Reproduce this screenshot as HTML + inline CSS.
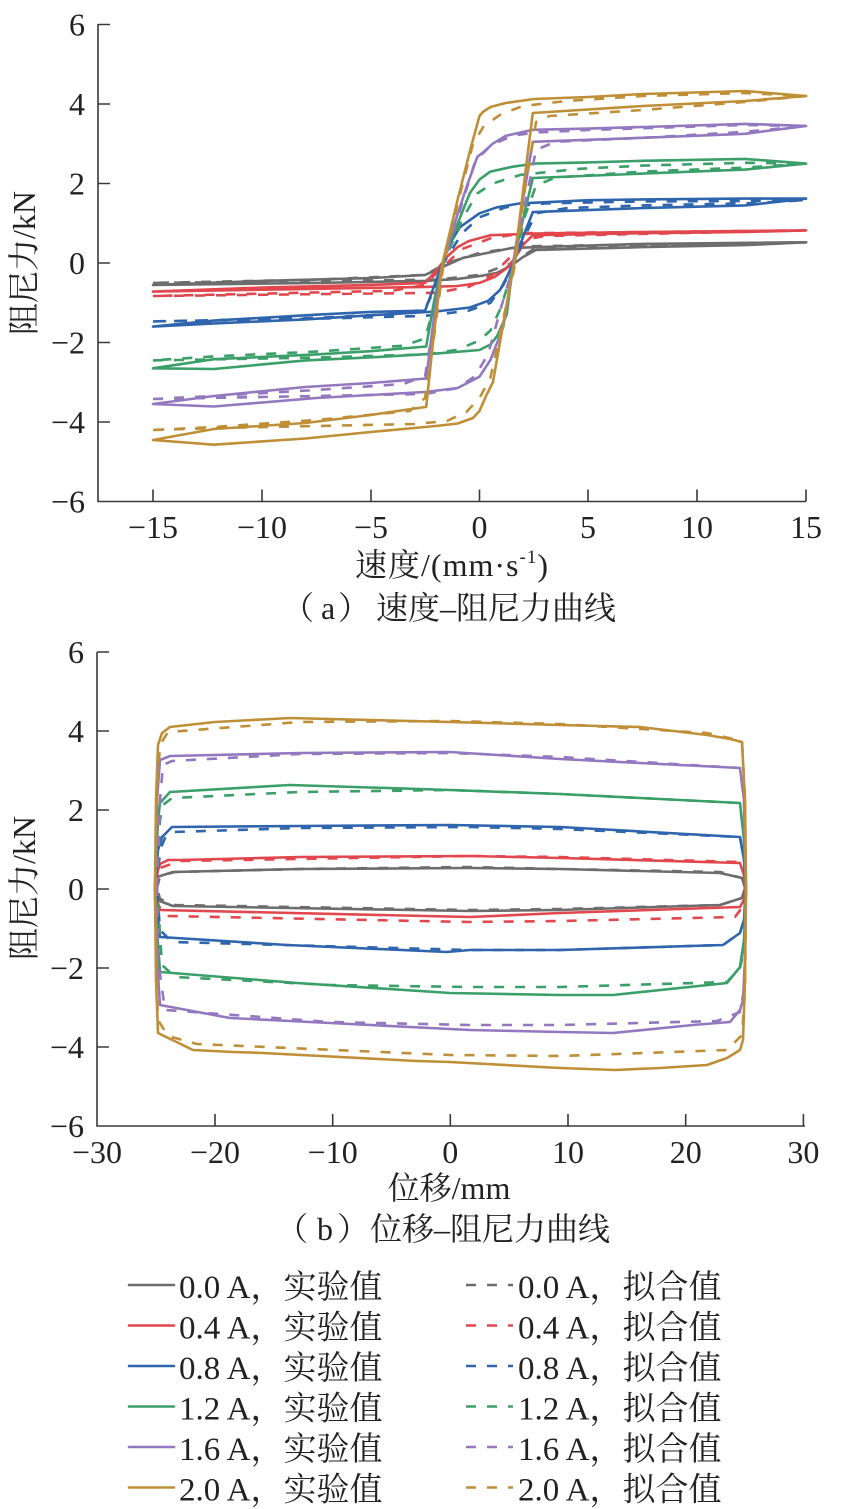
<!DOCTYPE html>
<html><head><meta charset="utf-8"><style>
html,body{margin:0;padding:0;background:#fff;}
svg{display:block;}
text{font-family:"Liberation Serif","Noto Serif CJK SC",serif;fill:#222;}
.cj{font-family:"Noto Serif CJK SC",serif;}
.s{fill:none;stroke-width:2.6;stroke-linejoin:round;stroke-linecap:round;}
.d{fill:none;stroke-width:2.6;stroke-dasharray:10 11;stroke-linejoin:round;}
.ax{stroke:#3a3a3a;stroke-width:1.6;fill:none;}
.gy{stroke:#6d6d6d}.rd{stroke:#e2474d}.bl{stroke:#2f65ad}.gn{stroke:#3b9f69}.pu{stroke:#9478bf}.go{stroke:#bf8f38}
</style></head><body>
<svg width="849" height="1509" viewBox="0 0 849 1509" xmlns="http://www.w3.org/2000/svg">
<rect width="849" height="1509" fill="#fff"/>

<!-- ===== Chart (a) ===== -->
<g>
<path class="ax" d="M98,24 V501.5 H806"/>
<path class="ax" d="M98,24.5h12M98,104h12M98,183.5h12M98,263h12M98,342.5h12M98,422h12M153,501.5v-12M262,501.5v-12M371,501.5v-12M479.5,501.5v-12M588,501.5v-12M697,501.5v-12M806,501.5v-12"/>
<g font-size="32" text-anchor="end">
<text x="85" y="35.5">6</text><text x="85" y="115">4</text><text x="85" y="194.5">2</text><text x="85" y="274">0</text><text x="85" y="353.5">−2</text><text x="85" y="433">−4</text><text x="85" y="512.5">−6</text>
</g>
<g font-size="32" text-anchor="middle">
<text x="153" y="538">−15</text><text x="262" y="538">−10</text><text x="371" y="538">−5</text><text x="479.5" y="538">0</text><text x="588" y="538">5</text><text x="697" y="538">10</text><text x="806" y="538">15</text>
</g>
<text font-size="32" text-anchor="middle" transform="translate(24,263) rotate(-90)" dominant-baseline="central">阻尼力/kN</text>
<text font-size="32" x="355" y="576" textLength="193" lengthAdjust="spacing">速度/(mm·s<tspan font-size="19" dy="-13">-1</tspan><tspan dy="13">)</tspan></text>
<text font-size="32" y="619"><tspan class="cj" x="282">（</tspan><tspan x="321">a</tspan><tspan class="cj" x="338">）</tspan><tspan x="376">速度–阻尼力曲线</tspan></text>

<!-- gray -->
<polyline class="s gy" points="153.0,284.9 316.2,282.9 425.1,280.9 457.7,278.9 479.5,276.1 496.9,272.9 512.2,265.0 523.0,257.0 536.1,249.9 642.8,247.1 745.1,245.1 806.1,242.3 642.8,243.9 512.2,247.9 463.2,257.8 446.8,265.0 425.1,274.9 370.7,278.1 261.8,280.9 153.0,284.9"/>
<polyline class="d gy" points="153.0,282.9 436.0,279.7 479.5,274.9 512.2,263.0 533.9,249.0 642.8,246.3 806.1,242.3 523.0,246.3 479.5,253.0 446.8,263.0 425.1,274.9 316.2,279.7 153.0,282.9"/>
<!-- red -->
<polyline class="s rd" points="153.0,291.6 316.2,288.8 425.1,286.9 457.7,286.0 479.5,282.9 494.7,276.9 505.6,269.0 514.3,259.0 523.0,245.1 532.8,235.2 642.8,233.2 745.1,232.0 806.1,230.4 642.8,232.0 533.9,233.6 490.4,235.2 468.6,241.1 457.7,247.1 446.8,257.0 436.0,271.0 425.1,282.9 370.7,284.9 261.8,287.6 153.0,291.6"/>
<polyline class="d rd" points="153.0,296.0 436.0,292.8 468.6,286.9 492.6,274.9 514.3,253.0 527.4,239.2 544.8,236.0 806.1,230.4 523.0,233.2 490.4,238.4 462.1,249.0 440.3,269.0 425.1,284.9 392.4,290.8 153.0,296.0"/>
<!-- blue -->
<polyline class="s bl" points="153.0,326.6 213.9,323.4 305.3,319.4 380.0,314.7 436.0,311.5 469.9,307.5 488.2,300.8 500.0,290.0 506.9,276.9 513.2,263.0 523.0,237.2 532.8,212.1 642.8,208.1 745.1,205.4 806.1,198.6 745.1,198.6 642.8,199.4 588.4,200.2 520.0,203.4 496.9,207.3 479.5,213.3 459.9,227.2 449.0,245.1 442.5,263.0 433.8,286.9 425.1,310.7 370.7,311.9 316.2,314.7 213.9,320.6 153.0,326.6"/>
<polyline class="d bl" points="153.0,321.4 316.2,318.7 425.1,315.9 468.6,310.7 490.4,302.8 503.4,284.9 514.3,263.0 525.2,235.2 536.1,213.3 566.6,208.1 642.8,205.4 745.1,203.4 806.1,200.2 745.1,201.0 642.8,201.4 544.8,203.4 505.6,207.3 479.5,217.3 462.1,233.2 443.6,263.0 433.8,290.8 425.1,308.7 403.3,313.5 316.2,317.9 213.9,320.2 153.0,321.4"/>
<!-- green -->
<polyline class="s gn" points="153.0,368.3 213.9,369.0 305.3,360.4 381.5,356.8 436.0,353.6 479.5,350.0 490.4,344.5 496.9,336.5 506.7,314.7 513.2,263.0 523.0,219.3 532.8,178.0 642.8,173.6 745.1,169.6 806.1,163.6 745.1,158.9 642.8,160.8 588.4,162.4 533.9,163.6 512.2,166.8 490.4,171.6 479.5,179.5 469.9,193.0 457.7,223.3 442.5,263.0 433.8,302.8 426.2,346.5 370.7,351.2 316.2,354.4 213.9,359.2 153.0,368.3"/>
<polyline class="d gn" points="153.0,360.4 316.2,357.6 425.1,354.4 457.7,349.7 479.5,340.5 490.4,330.6 501.3,306.7 514.3,263.0 525.2,215.3 536.1,185.5 555.7,177.5 642.8,171.6 745.1,167.6 806.1,163.6 745.1,162.8 642.8,165.6 579.6,168.8 520.9,174.8 492.6,183.5 477.3,193.4 462.1,219.3 443.6,263.0 433.8,306.7 425.1,338.5 403.3,345.7 316.2,351.6 213.9,356.4 153.0,360.4"/>
<!-- purple -->
<polyline class="s pu" points="153.0,404.0 213.9,406.5 316.2,398.0 370.7,395.0 425.1,392.0 457.7,388.0 479.5,376.7 490.4,360.0 503.4,326.7 513.2,263.0 523.0,199.4 532.8,141.8 642.8,137.8 745.1,133.8 806.1,125.9 745.1,123.9 642.8,127.0 588.4,128.6 532.8,129.8 505.6,135.8 492.6,143.8 483.9,151.7 477.3,156.9 466.4,187.5 453.4,227.2 442.5,263.0 433.8,318.7 426.2,378.5 370.7,383.0 305.3,387.0 213.9,396.0 153.0,404.0"/>
<polyline class="d pu" points="153.0,399.0 316.2,396.0 425.1,394.0 457.7,388.0 475.1,376.0 488.2,354.0 501.3,306.7 514.3,263.0 525.2,203.4 536.1,149.7 555.7,141.8 642.8,137.8 745.1,131.8 806.1,126.0 745.1,125.0 588.4,130.0 533.9,132.6 512.2,135.8 490.4,145.7 475.1,161.6 462.1,203.4 443.6,263.0 433.8,322.6 425.1,376.0 403.3,384.0 316.2,390.0 213.9,396.0 153.0,399.0"/>
<!-- gold -->
<polyline class="s go" points="153.0,440.0 213.9,444.7 305.3,438.5 370.7,432.0 425.1,427.0 440.3,425.5 457.7,423.5 473.0,418.0 479.5,411.0 486.0,396.0 493.0,382.0 503.4,322.6 514.3,263.0 523.0,191.5 532.8,113.0 642.8,106.0 745.1,101.0 806.1,96.0 745.1,91.0 642.8,94.0 588.4,97.0 533.9,99.0 505.6,103.0 490.4,107.0 482.8,112.0 479.5,116.0 470.8,147.7 457.7,199.4 442.5,263.0 433.8,334.5 426.2,406.9 370.7,415.0 305.3,423.0 213.9,429.0 153.0,440.0"/>
<polyline class="d go" points="153.0,430.0 218.3,428.0 316.2,426.0 414.2,424.0 446.8,421.0 466.4,412.0 479.5,398.0 490.4,378.0 503.4,318.6 515.4,263.0 525.2,187.5 536.1,122.0 549.2,116.0 642.8,110.0 745.1,102.0 806.1,96.0 745.1,93.0 642.8,96.0 566.6,101.0 523.0,106.0 501.3,114.0 483.9,126.0 473.0,143.8 457.7,203.4 443.6,263.0 433.8,338.5 425.1,398.0 409.8,411.0 316.2,420.0 213.9,427.0 153.0,430.0"/>
</g>

<!-- ===== Chart (b) ===== -->
<g>
<path class="ax" d="M97,652 V1126 H805"/>
<path class="ax" d="M97,652h12M97,731h12M97,810h12M97,889h12M97,968h12M97,1047h12M215,1126v-12M332.7,1126v-12M450.3,1126v-12M568,1126v-12M685.7,1126v-12M803.4,1126v-12"/>
<g font-size="32" text-anchor="end">
<text x="84" y="663">6</text><text x="84" y="742">4</text><text x="84" y="821">2</text><text x="84" y="900">0</text><text x="84" y="979">−2</text><text x="84" y="1058">−4</text><text x="84" y="1137">−6</text>
</g>
<g font-size="32" text-anchor="middle">
<text x="97" y="1163">−30</text><text x="215" y="1163">−20</text><text x="332.7" y="1163">−10</text><text x="450.3" y="1163">0</text><text x="568" y="1163">10</text><text x="685.7" y="1163">20</text><text x="803.4" y="1163">30</text>
</g>
<text font-size="32" text-anchor="middle" transform="translate(24,888) rotate(-90)" dominant-baseline="central">阻尼力/kN</text>
<text font-size="32" text-anchor="middle" x="449" y="1199">位移/mm</text>
<text font-size="32" y="1240"><tspan class="cj" x="276">（</tspan><tspan x="317">b</tspan><tspan class="cj" x="337">）</tspan><tspan x="370">位移–阻尼力曲线</tspan></text>

<polyline class="s gy" points="155,888 157,877 173,872 300,869 470,868 560,869 720,873 742,878 745,888 742,898 720,905 560,910 470,911 173,906 157,900 155,888"/>
<polyline class="d gy" points="157,888 160,876 175,872 300,869 470,867 560,869 720,872 742,878 745,888 742,898 720,905 560,909 470,910 175,905 160,899 157,888"/>
<polyline class="s rd" points="155,888 158,870 160,864 168,860 180,860 300,857 470,856 560,858 740,863 744,875 746,888 744,900 740,907 560,913 470,917 160,910 157,900 155,888"/>
<polyline class="d rd" points="157,888 160,868 180,861 470,856 560,857 740,862 745,875 746,888 744,905 735,917 560,921 470,922 167,916 158,905 157,888"/>
<polyline class="s bl" points="155,888 158,850 162,837 172,827 300,826 450,825 560,827 740,837 744,860 746,888 744,920 740,933 723,945 560,950 470,950 447,952 287,945 160,937 157,910 155,888"/>
<polyline class="d bl" points="157,888 160,850 165,838 173,832 300,828 470,827 560,829 740,837 744,860 746,888 744,920 740,933 723,945 560,950 470,950 172,942 160,930 157,888"/>
<polyline class="s gn" points="155,888 158,820 160,803 170,792 290,785 450,790 560,794 740,803 744,840 746,888 744,940 740,967 727,983 613,995 560,995 450,993 297,983 160,972 157,930 155,888"/>
<polyline class="d gn" points="157,888 160,820 163,805 172,798 300,792 450,790 560,794 740,803 744,840 746,888 744,950 740,968 727,982 560,987 470,987 330,985 175,977 162,965 157,888"/>
<polyline class="s pu" points="155,888 157,800 160,760 170,756 300,753 450,752 560,759 740,768 744,800 746,888 745,960 743,1000 740,1010 730,1022 693,1025 613,1033 560,1032 470,1030 330,1023 230,1018 160,1005 157,960 155,888"/>
<polyline class="d pu" points="157,888 160,800 163,765 172,761 300,754 450,753 560,757 740,768 744,800 746,888 744,990 740,1012 717,1021 560,1025 470,1025 330,1022 165,1010 158,960 157,888"/>
<polyline class="s go" points="155,888 156,800 158,745 162,733 170,727 215,722 290,718 450,722 560,725 640,727 707,735 730,739 742,742 745,800 746,888 745,980 743,1040 740,1050 727,1058 707,1065 660,1068 615,1070 560,1068 450,1062 417,1061 263,1053 233,1052 193,1050 158,1033 156,980 155,888"/>
<polyline class="d go" points="155,888 157,790 160,745 168,732 300,722 450,721 560,724 707,733 742,741 745,800 746,888 745,990 742,1035 727,1050 560,1056 450,1055 197,1044 168,1036 158,1020 156,960 155,888"/>
</g>

<!-- ===== Legend ===== -->
<g font-size="33">
<line class="s gy" x1="129" y1="1285" x2="174" y2="1285" stroke-width="3"/>
<line class="s rd" x1="129" y1="1325.5" x2="174" y2="1325.5" stroke-width="3"/>
<line class="s bl" x1="129" y1="1366" x2="174" y2="1366" stroke-width="3"/>
<line class="s gn" x1="129" y1="1406.5" x2="174" y2="1406.5" stroke-width="3"/>
<line class="s pu" x1="129" y1="1447" x2="174" y2="1447" stroke-width="3"/>
<line class="s go" x1="129" y1="1487.5" x2="174" y2="1487.5" stroke-width="3"/>
<text x="179" y="1298">0.0 A，实验值</text>
<text x="179" y="1338.5">0.4 A，实验值</text>
<text x="179" y="1379">0.8 A，实验值</text>
<text x="179" y="1419.5">1.2 A，实验值</text>
<text x="179" y="1460">1.6 A，实验值</text>
<text x="179" y="1500.5">2.0 A，实验值</text>

<line class="d gy" x1="466" y1="1285" x2="513" y2="1285" stroke-width="3"/>
<line class="d rd" x1="466" y1="1325.5" x2="513" y2="1325.5" stroke-width="3"/>
<line class="d bl" x1="466" y1="1366" x2="513" y2="1366" stroke-width="3"/>
<line class="d gn" x1="466" y1="1406.5" x2="513" y2="1406.5" stroke-width="3"/>
<line class="d pu" x1="466" y1="1447" x2="513" y2="1447" stroke-width="3"/>
<line class="d go" x1="466" y1="1487.5" x2="513" y2="1487.5" stroke-width="3"/>
<text x="518" y="1298">0.0 A，拟合值</text>
<text x="518" y="1338.5">0.4 A，拟合值</text>
<text x="518" y="1379">0.8 A，拟合值</text>
<text x="518" y="1419.5">1.2 A，拟合值</text>
<text x="518" y="1460">1.6 A，拟合值</text>
<text x="518" y="1500.5">2.0 A，拟合值</text>
</g>
</svg>
</body></html>
